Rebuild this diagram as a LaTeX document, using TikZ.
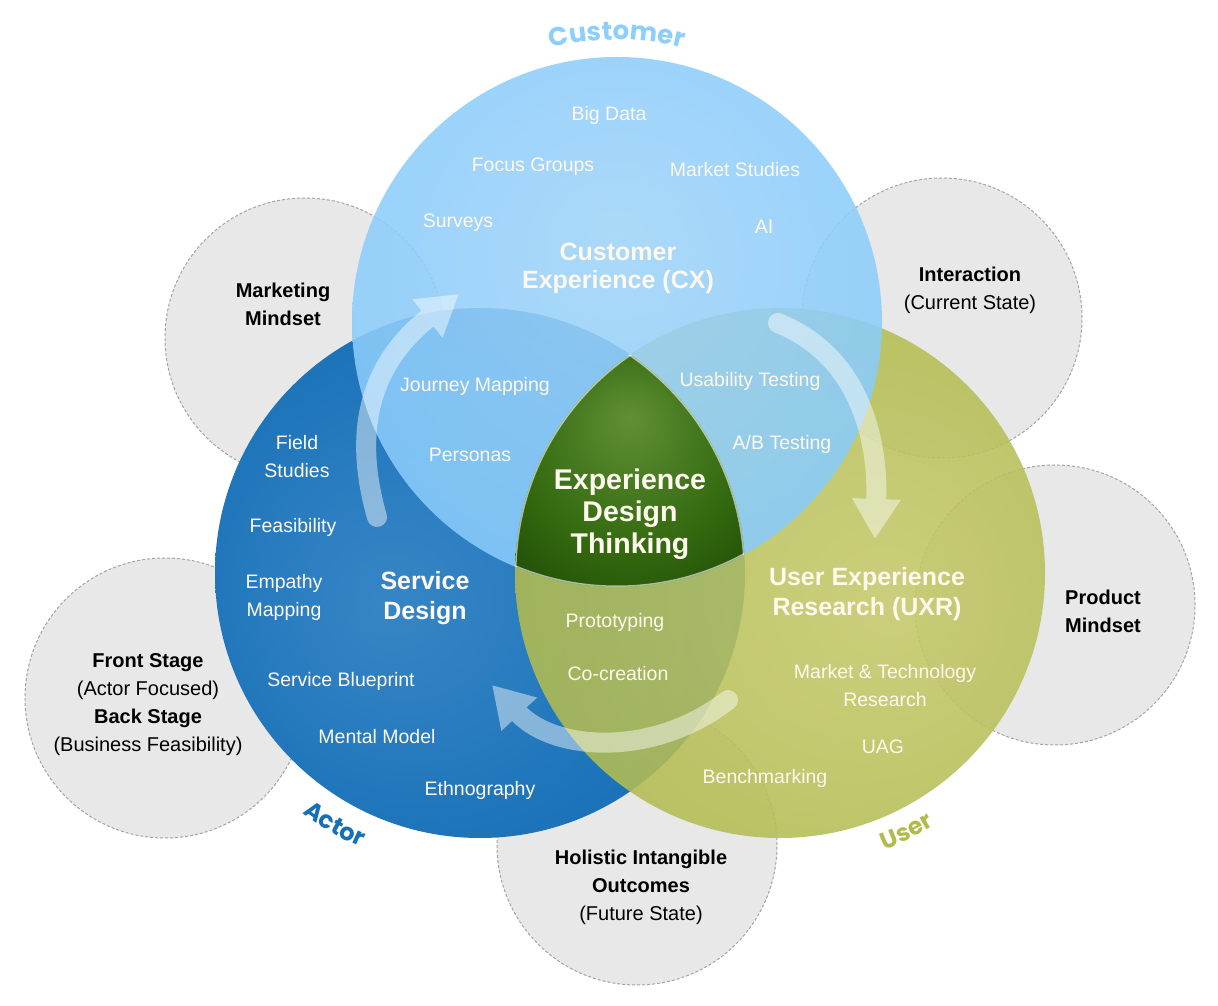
\documentclass[tikz,border=0pt]{standalone}
\usepackage{fontspec}
\setmainfont{Liberation Sans}
\newfontfamily\arcfont{Poppins}
\usepackage{tikz}
\usetikzlibrary{arrows.meta, calc, decorations.text, positioning}
\usepackage{xcolor}
\definecolor{CustBlue}{HTML}{7CC7FE}
\definecolor{CustLite}{HTML}{A0D4F8}
\definecolor{ActorBlue}{HTML}{0864AE}
\definecolor{ActorLite}{HTML}{3686C6}
\definecolor{UserOlive}{HTML}{A8B442}
\definecolor{UserLite}{HTML}{C4C96A}
\definecolor{LensDark}{HTML}{183E02}
\definecolor{LensMid}{HTML}{32680E}
\definecolor{LensLite}{HTML}{609036}
\definecolor{MistGrey}{HTML}{E8E8E8}
\definecolor{DashGrey}{HTML}{A4A4A4}
\definecolor{Cream}{HTML}{FFF8EE}
\definecolor{ArcBlue}{HTML}{8DCFFB}
\definecolor{ArcActor}{HTML}{1670B5}
\definecolor{ArcOlive}{HTML}{B2BA4C}
\pgfdeclareradialshading{cust_glow}{\pgfpoint{0bp}{8bp}}{%
  color(0bp)=(CustLite); color(44bp)=(CustBlue); color(50bp)=(CustBlue)}
\pgfdeclareradialshading{actor_glow}{\pgfpoint{-9bp}{-3bp}}{%
  color(0bp)=(ActorLite); color(44bp)=(ActorBlue); color(50bp)=(ActorBlue)}
\pgfdeclareradialshading{user_glow}{\pgfpoint{11bp}{-3bp}}{%
  color(0bp)=(UserLite); color(44bp)=(UserOlive); color(50bp)=(UserOlive)}
\pgfdeclareradialshading{lens_glow}{\pgfpoint{0bp}{12bp}}{%
  color(0bp)=(LensLite); color(24bp)=(LensMid); color(44bp)=(LensDark);
  color(50bp)=(LensDark)}
\tikzset{%
  mindset_circle/.style={%
    fill=MistGrey,%
    draw=DashGrey,%
    line width=1,%
    dash pattern=on 3pt off 2pt,%
  },
  venn_item/.style={%
    text=Cream,%
    font={\fontsize{19.5}{28}\selectfont},%
    align=center,%
    inner sep=0pt,%
  },
  venn_title/.style={%
    text=Cream,%
    font={\fontsize{25}{30}\selectfont\bfseries},%
    align=center,%
    inner sep=0pt,%
  },
  lens_title/.style={%
    text=Cream,%
    font={\fontsize{28.5}{32}\selectfont\bfseries},%
    align=center,%
    inner sep=0pt,%
  },
  mindset_text/.style={%
    text=black,%
    font={\fontsize{20}{28}\selectfont},%
    align=center,%
    inner sep=0pt,%
  },
  cycle_arrow/.style={%
    draw=white,%
    line width=20,%
    line cap=round,%
    -{Triangle[length=40pt, width=46pt]},%
  },
  lens_rim/.style={%
    draw=white,%
    draw opacity=0.6,%
    line width=3,%
  },
}

\begin{document}
\begin{tikzpicture}[x=1pt, y=1pt]

    \useasboundingbox (0,0) rectangle (1218,1005);
    \fill [white] (0,0) rectangle (1218,1005);

    \foreach \cx/\cy in {305/667, 942/687, 1055/400, 165/307, 637/160}
      \draw [mindset_circle] (\cx,\cy) circle [radius=140];

    \shade [shading=actor_glow] (480,432) circle [radius=265];
    \shade [shading=user_glow, fill opacity=0.88] (780,432) circle [radius=265];
    \shade [shading=cust_glow, fill opacity=0.88] (617,683) circle [radius=265];

    \begin{scope}
      \clip (617,683) circle [radius=265];
      \clip (480,432) circle [radius=265];
      \clip (780,432) circle [radius=265];
      \shade [shading=lens_glow] (515,418) rectangle (745,648);
      \draw [lens_rim] (617,683) circle [radius=265];
      \draw [lens_rim] (480,432) circle [radius=265];
      \draw [lens_rim] (780,432) circle [radius=265];
    \end{scope}

    \coordinate (LoopAStart) at (377,488);
    \coordinate (LoopATip) at (459,711);
    \coordinate (LoopBStart) at (778,682);
    \coordinate (LoopBTip) at (875,466);
    \coordinate (LoopCStart) at (728,305);
    \coordinate (LoopCTip) at (492,320);

    \begin{scope}[transparency group, opacity=0.45]
      \draw [cycle_arrow]
        (LoopAStart) to [out=106, in=218, looseness=1.1] (LoopATip);
      \draw [cycle_arrow]
        (LoopBStart) to [out=-22, in=88] (LoopBTip);
      \draw [cycle_arrow]
        (LoopCStart) to [out=218, in=-47] (LoopCTip);
    \end{scope}

    \node [venn_item] (BigData) at (609,890) {Big Data};
    \node [venn_item] (FocusGroups) at (533,838) {Focus Groups};
    \node [venn_item] (MarketStudies) at (735,835) {Market Studies};
    \node [venn_item] (Surveys) at (458,782) {Surveys};
    \node [venn_item] (AI) at (764,778) {AI};
    \node [venn_title, font={\fontsize{25}{28}\selectfont\bfseries}] (CX)
      at (618,737) {Customer\\Experience (CX)};
    \node [venn_item] (JourneyMapping) at (475,619) {Journey Mapping};
    \node [venn_item] (Personas) at (470,550) {Personas};
    \node [venn_item] (Usability) at (750,624) {Usability Testing};
    \node [venn_item] (ABTesting) at (782,561) {A/B Testing};

    \node [venn_item] (FieldStudies) at (297,548) {Field\\Studies};
    \node [venn_item] (Feasibility) at (293,478) {Feasibility};
    \node [venn_item] (Empathy) at (284,408) {Empathy\\Mapping};
    \node [venn_title] (ServiceDesign) at (425,407) {Service\\Design};
    \node [venn_item] (Blueprint) at (341,324) {Service Blueprint};
    \node [venn_item] (MentalModel) at (377,268) {Mental Model};
    \node [venn_item] (Ethnography) at (480,215) {Ethnography};

    \node [lens_title] (EDT) at (630,491) {Experience\\Design\\Thinking};

    \node [venn_item] (Prototyping) at (615,383) {Prototyping};
    \node [venn_item] (Cocreation) at (618,331) {Co-creation};
    \node [venn_title] (UXR) at (867,411) {User Experience\\Research (UXR)};
    \node [venn_item] (MarketTech) at (885,319) {Market \& Technology\\Research};
    \node [venn_item] (UAG) at (883,258) {UAG};
    \node [venn_item] (Benchmarking) at (765,227) {Benchmarking};

    \node [mindset_text] (Marketing) at (283,701)
      {\textbf{Marketing}\\\textbf{Mindset}};
    \node [mindset_text] (Interaction) at (970,715)
      {\textbf{Interaction}\\(Current State)};
    \node [mindset_text] (Product) at (1103,394)
      {\textbf{Product}\\\textbf{Mindset}};
    \node [mindset_text] (Stages) at (148,300)
      {\textbf{Front Stage}\\(Actor Focused)\\\textbf{Back Stage}\\(Business Feasibility)};
    \node [mindset_text] (Holistic) at (641,118)
      {\textbf{Holistic Intangible}\\\textbf{Outcomes}\\(Future State)};

    \path [decorate, decoration={text along path, text align=center,
        text={|\arcfont\bfseries\fontsize{26}{26}\selectfont\color{ArcBlue}|Customer}}]
      (617,683) ++(112:282) arc [start angle=112, end angle=68, radius=282];
    \path [decorate, decoration={text along path, text align=center,
        text={|\arcfont\bfseries\fontsize{24}{24}\selectfont\color{ArcActor}|Actor}}]
      (480,432) ++(-132:299) arc [start angle=-132, end angle=-108, radius=299];
    \path [decorate, decoration={text along path, text align=center,
        text={|\arcfont\bfseries\fontsize{24}{24}\selectfont\color{ArcOlive}|User}}]
      (780,432) ++(-76:296) arc [start angle=-76, end angle=-52, radius=296];
  \end{tikzpicture}
\end{document}
